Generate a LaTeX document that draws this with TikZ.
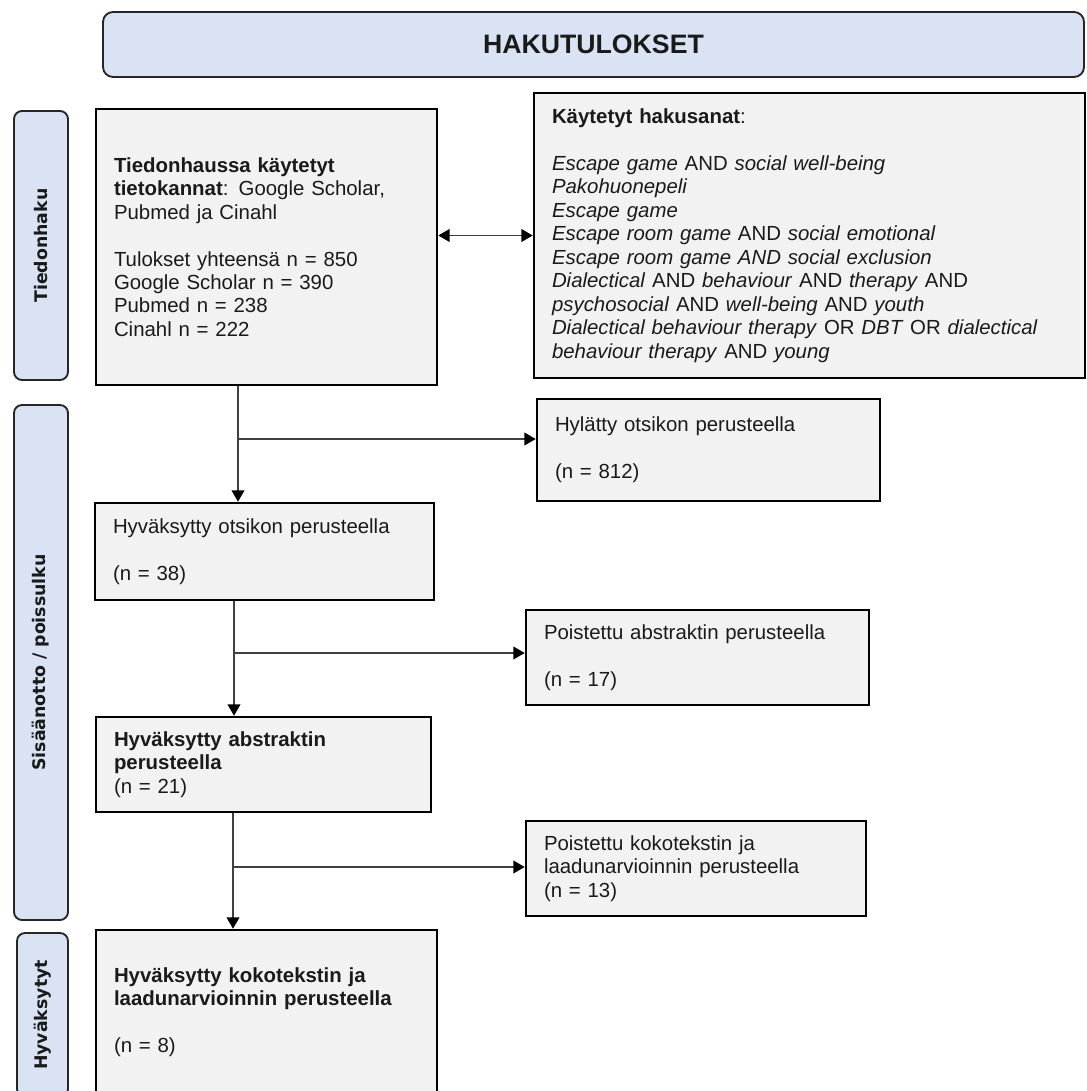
\documentclass[tikz,border=0pt]{standalone}
\usepackage{fontspec}
\setmainfont{Liberation Sans}
\newfontfamily\sidefont{DejaVu Sans}
\usetikzlibrary{arrows.meta}
\definecolor{boxgray}{HTML}{F2F2F2}
\definecolor{sideblue}{HTML}{DAE3F3}
\definecolor{linegray}{HTML}{404040}
\definecolor{txt}{HTML}{1A1A1A}
\newcommand{\bodyfont}{\fontsize{15.3pt}{17.6pt}\selectfont}
\begin{document}
\begin{tikzpicture}[x=0.75pt,y=-0.75pt,
 box/.style={draw=black, line width=1.9pt, fill=boxgray, inner xsep=13.5pt, inner ysep=0pt, align=left, font=\bodyfont, text=txt},
 sidebox/.style={draw=black!85, line width=1.4pt, fill=sideblue, rounded corners=6pt, rotate=90, font=\sidefont\bfseries\fontsize{13pt}{15pt}\selectfont, text=txt, inner sep=0pt},
 conn/.style={draw=linegray, line width=1.2pt},
 arr/.style={conn, -{Triangle[length=8.5pt,width=9.5pt,color=black]}},
 darr/.style={conn, {Triangle[length=8.5pt,width=9.5pt,color=black]}-{Triangle[length=8.5pt,width=9.5pt,color=black]}}]
\useasboundingbox (0,0) rectangle (1086,1091);

% title
\node[draw=black!85, line width=1.4pt, fill=sideblue, rounded corners=7.5pt, minimum width=735.75pt, minimum height=48.75pt, inner sep=0pt, font=\bfseries\fontsize{20pt}{24pt}\selectfont, text=txt] (title) at (593.5,44.5) {HAKUTULOKSET};

% side labels
\node[sidebox, minimum width=201.75pt, minimum height=40.5pt] (s1) at (41,245.5) {Tiedonhaku};
\node[sidebox, minimum width=386.25pt, minimum height=40.5pt] (s2) at (41,662.5) {Sisäänotto / poissulku};
\node[sidebox, minimum width=123pt, minimum height=38.25pt] (s3) at (42.5,1015) {Hyväksytyt};

% main boxes
\node[box, text width=228.75pt, minimum height=207pt] (b1) at (266.5,247) {%
\textbf{Tiedonhaussa käytetyt}\\
\textbf{tietokannat}: Google Scholar,\\
Pubmed ja Cinahl\\[17.6pt]
Tulokset yhteensä n = 850\\
Google Scholar n = 390\\
Pubmed n = 238\\
Cinahl n = 222};

\node[box, text width=386.25pt, minimum height=213.75pt] (kw) at (809.5,235.5) {%
\textbf{Käytetyt hakusanat}:\\[17.6pt]
\textit{Escape game} AND \textit{social well-being}\\
\textit{Pakohuonepeli}\\
\textit{Escape game}\\
\textit{Escape room game} AND \textit{social emotional}\\
\textit{Escape room game AND social exclusion}\\
\textit{Dialectical} AND \textit{behaviour} AND \textit{therapy} AND\\
\textit{psychosocial} AND \textit{well-being} AND \textit{youth}\\
\textit{Dialectical behaviour therapy} OR \textit{DBT} OR \textit{dialectical}\\
\textit{behaviour therapy} AND \textit{young}};

\node[box, text width=230.25pt, minimum height=76.5pt] (hyl) at (708.5,450) {%
Hylätty otsikon perusteella\\[17.6pt]
(n = 812)};

\node[box, text width=227.25pt, minimum height=72.75pt] (b2) at (264.5,551.5) {%
Hyväksytty otsikon perusteella\\[17.6pt]
(n = 38)};

\node[box, text width=230.25pt, minimum height=71.25pt] (pab) at (697.5,657.5) {%
Poistettu abstraktin perusteella\\[17.6pt]
(n = 17)};

\node[box, text width=224.25pt, minimum height=71.25pt] (b3) at (263.5,764.5) {%
\textbf{Hyväksytty abstraktin}\\
\textbf{perusteella}\\
(n = 21)};

\node[box, text width=228pt, minimum height=71.25pt] (pko) at (696,868.5) {%
Poistettu kokotekstin ja\\
laadunarvioinnin perusteella\\
(n = 13)};

\node[box, text width=228.75pt, minimum height=123pt] (b4) at (266.5,1012) {%
\textbf{Hyväksytty kokotekstin ja}\\
\textbf{laadunarvioinnin perusteella}\\[17.6pt]
(n = 8)};

% connectors
\draw[darr] (b1.east |- kw.west) -- (kw.west);

\draw[arr] ([xshift=-21.375pt]b1.south) coordinate (j1) -- (j1 |- b2.north);
\coordinate (h1) at ([yshift=8.25pt]hyl.west);
\draw[arr] (j1 |- h1) -- (h1);

\draw[arr] ([xshift=-22.875pt]b2.south) coordinate (j2) -- (j2 |- b3.north);
\coordinate (h2) at ([yshift=3.375pt]pab.west);
\draw[arr] (j2 |- h2) -- (h2);

\draw[arr] ([xshift=-22.875pt]b3.south) coordinate (j3) -- (j3 |- b4.north);
\coordinate (h3) at ([yshift=1.125pt]pko.west);
\draw[arr] (j3 |- h3) -- (h3);
\end{tikzpicture}
\end{document}
